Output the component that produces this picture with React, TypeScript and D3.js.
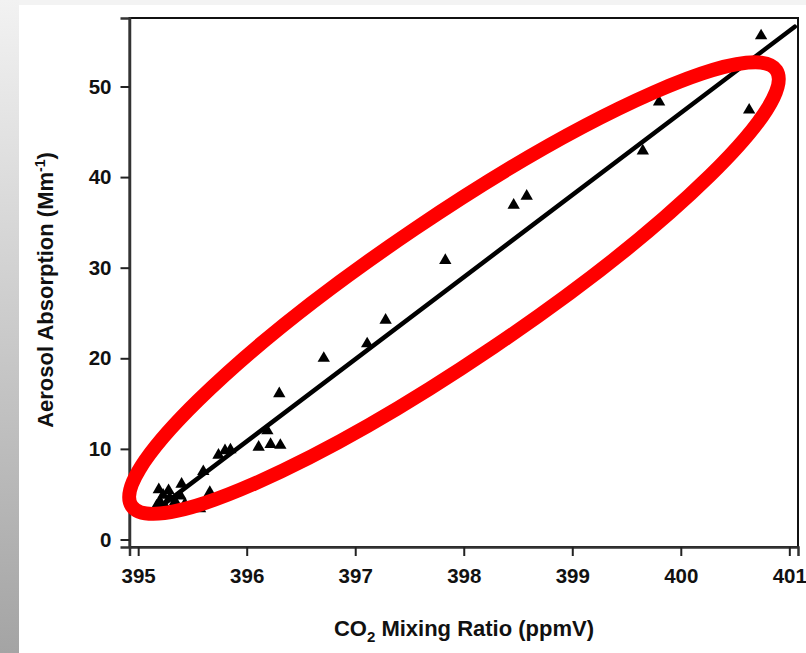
import React, { useRef, useEffect } from 'react';
import * as d3 from 'd3';

// CO2 (ppmV) vs aerosol absorption (Mm-1)
const co2 = [
  400.74, 399.8, 400.63, 399.65, 398.58, 398.46, 397.83, 397.28, 397.11, 396.71,
  396.3, 396.31, 396.22, 396.11, 396.19, 395.85, 395.8, 395.74, 395.6, 395.66,
  395.4, 395.19, 395.23, 395.28, 395.29, 395.2, 395.34, 395.17, 395.39, 395.43,
  395.25, 395.57,
];
const absorption = [
  55.6, 48.3, 47.4, 42.9, 37.9, 36.9, 30.8, 24.2, 21.6, 20.0,
  16.1, 10.4, 10.5, 10.2, 12.0, 9.9, 9.8, 9.3, 7.5, 5.2,
  6.1, 5.5, 4.9, 5.4, 4.6, 4.2, 4.2, 3.7, 4.8, 3.9,
  3.6, 3.4,
];

// linear fit end points
const fitX = [395.17, 401.05];
const fitY = [3.3, 56.6];

// red highlight ellipse, tips in data units
const ellipseTipX = [394.94, 400.88];
const ellipseTipY = [3.7, 51.8];

const xTicks = [395, 396, 397, 398, 399, 400, 401];
const yTicks = [0, 10, 20, 30, 40, 50];

const width = 806;
const height = 653;
const plot = { left: 129.5, right: 798, top: 18, bottom: 547 };
const font = '"Liberation Sans", Arial, sans-serif';

const App = () => {
  const ref = useRef<SVGSVGElement>(null);

  useEffect(() => {
    const svg = d3.select(ref.current);
    svg.selectAll('*').remove();

    // background: grey gradient strip on the left, faint band on top
    const grad = svg
      .append('defs')
      .append('linearGradient')
      .attr('id', 'strip')
      .attr('x1', 0)
      .attr('y1', 0)
      .attr('x2', 0)
      .attr('y2', 1);
    grad.append('stop').attr('offset', '0%').attr('stop-color', '#f2f2f2');
    grad.append('stop').attr('offset', '100%').attr('stop-color', '#a4a4a4');

    svg.append('rect').attr('width', width).attr('height', height).attr('fill', '#fff');
    svg.append('rect').attr('width', width).attr('height', 5).attr('fill', '#f3f3f3');
    svg.append('rect').attr('width', 19).attr('height', height).attr('fill', 'url(#strip)');

    const xScale = d3.scaleLinear().domain([394.92, 401.08]).range([plot.left, plot.right]);
    const yScale = d3.scaleLinear().domain([-0.83, 57.56]).range([plot.bottom, plot.top]);

    // frame
    svg
      .append('rect')
      .attr('x', plot.left)
      .attr('y', plot.top)
      .attr('width', plot.right - plot.left)
      .attr('height', plot.bottom - plot.top)
      .attr('fill', 'none')
      .attr('stroke', '#111')
      .attr('stroke-width', 2);

    // axes
    const xAxis = svg
      .append('g')
      .attr('transform', `translate(0, ${plot.bottom})`)
      .call(d3.axisBottom(xScale).tickValues(xTicks).tickSize(9).tickPadding(12).tickFormat(d3.format('d')));
    const yAxis = svg
      .append('g')
      .attr('transform', `translate(${plot.left}, 0)`)
      .call(d3.axisLeft(yScale).tickValues(yTicks).tickSize(9).tickPadding(9));

    [xAxis, yAxis].forEach((g) => {
      g.select('.domain').attr('stroke', '#333').attr('stroke-width', 2.5);
      g.selectAll('.tick line').attr('stroke', '#222').attr('stroke-width', 2);
      g.selectAll('.tick text')
        .attr('fill', '#111')
        .style('font-family', font)
        .style('font-weight', 'bold')
        .style('font-size', '20.5px');
    });

    // axis titles
    const xt = svg
      .append('text')
      .attr('x', 464)
      .attr('y', 636)
      .attr('text-anchor', 'middle')
      .attr('fill', '#111')
      .style('font-family', font)
      .style('font-weight', 'bold')
      .style('font-size', '22px');
    xt.append('tspan').text('CO');
    xt.append('tspan').attr('dy', 6).style('font-size', '15px').text('2');
    xt.append('tspan').attr('dy', -6).text(' Mixing Ratio (ppmV)');

    const yt = svg
      .append('text')
      .attr('transform', 'translate(53, 290) rotate(-90)')
      .attr('text-anchor', 'middle')
      .attr('fill', '#111')
      .style('font-family', font)
      .style('font-weight', 'bold')
      .style('font-size', '22px');
    yt.append('tspan').text('Aerosol Absorption (Mm');
    yt.append('tspan').attr('dy', -8).style('font-size', '14px').text('-1');
    yt.append('tspan').attr('dy', 8).text(')');

    // fit line
    const fit = fitX.map((x, i) => [x, fitY[i]] as [number, number]);
    svg
      .append('path')
      .datum(fit)
      .attr('fill', 'none')
      .attr('stroke', '#000')
      .attr('stroke-width', 4.5)
      .attr('stroke-linecap', 'round')
      .attr(
        'd',
        d3
          .line<[number, number]>()
          .x((d) => xScale(d[0]))
          .y((d) => yScale(d[1])),
      );

    // markers
    svg
      .append('g')
      .selectAll('path')
      .data(co2.map((x, i) => ({ x, y: absorption[i] })))
      .enter()
      .append('path')
      .attr('d', d3.symbol().type(d3.symbolTriangle).size(66)())
      .attr('transform', (d) => `translate(${xScale(d.x)}, ${yScale(d.y)})`)
      .attr('fill', '#000');

    // red ellipse
    const x1 = xScale(ellipseTipX[0]);
    const y1 = yScale(ellipseTipY[0]);
    const x2 = xScale(ellipseTipX[1]);
    const y2 = yScale(ellipseTipY[1]);
    const angle = (Math.atan2(y2 - y1, x2 - x1) * 180) / Math.PI;
    svg
      .append('ellipse')
      .attr('cx', 0)
      .attr('cy', 0)
      .attr('rx', Math.hypot(x2 - x1, y2 - y1) / 2)
      .attr('ry', 71)
      .attr('transform', `translate(${(x1 + x2) / 2}, ${(y1 + y2) / 2}) rotate(${angle})`)
      .attr('fill', 'none')
      .attr('stroke', '#ff0000')
      .attr('stroke-width', 14);
  }, []);

  return (
    <svg
      ref={ref}
      width={width}
      height={height}
      style={{ position: 'absolute', left: 0, top: 0, display: 'block' }}
    ></svg>
  );
};

export default App;
